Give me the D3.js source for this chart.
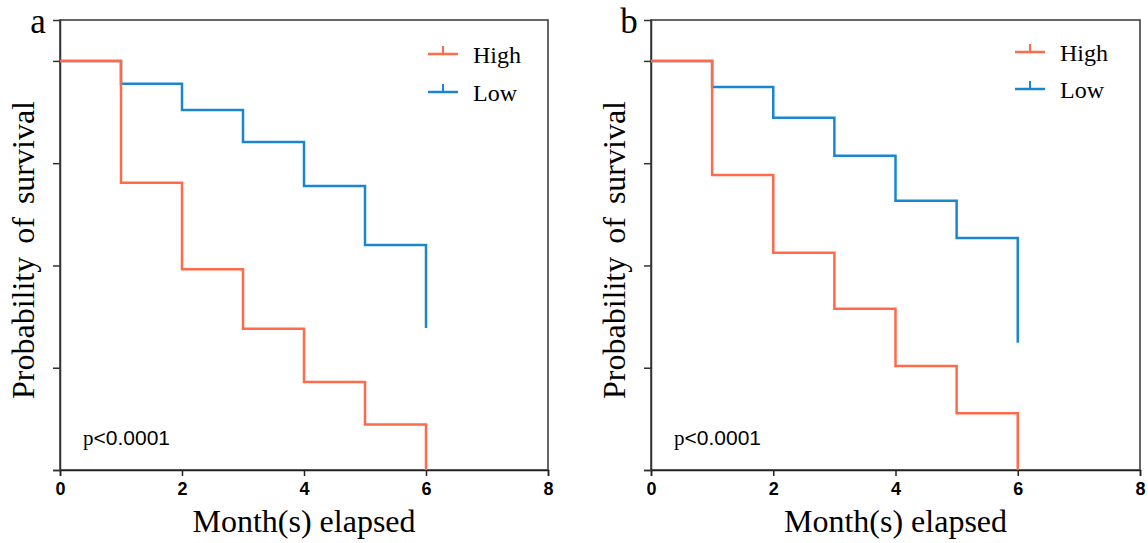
<!DOCTYPE html>
<html>
<head>
<meta charset="utf-8">
<script src="https://cdn.jsdelivr.net/npm/d3@7"></script>
<style>
  body { margin: 0; background: #fff; }
  svg { display: block; }
</style>
</head>
<body>
<svg id="chart" width="1148" height="543"></svg>
<script>
// months on the x axis
const months = [0, 1, 2, 3, 4, 5, 6];
// panel a survival estimates
const highA = [1, 0.702, 0.491, 0.345, 0.215, 0.111, 0];
const lowA = [1, 0.944, 0.880, 0.802, 0.694, 0.550, 0.347];
// panel b survival estimates
const highB = [1, 0.721, 0.531, 0.394, 0.254, 0.139, 0];
const lowB = [1, 0.936, 0.861, 0.768, 0.658, 0.567, 0.311];
const xTicks = [0, 2, 4, 6, 8];
const yTicks = [0, 0.25, 0.5, 0.75, 1];
const seriesNames = ["High", "Low"];
const colors = { High: "#ff6a4b", Low: "#1b86d0" };

const svg = d3.select("#chart");
const serif = '"Liberation Serif", "Times New Roman", serif';
const sans = '"Liberation Sans", Arial, sans-serif';

const panels = [
  { label: "a", left: 60, right: 548, high: highA, low: lowA, legX: 428, legY: 54, legGap: 38 },
  { label: "b", left: 651, right: 1140, high: highB, low: lowB, legX: 1015, legY: 52, legGap: 37 }
];
const plotTop = 20, plotBottom = 470;

panels.forEach(p => {
  const x = d3.scaleLinear().domain([0, 8]).range([p.left, p.right]);
  const y = d3.scaleLinear().domain([0, 1.1]).range([plotBottom, plotTop]);
  const g = svg.append("g");

  // frame
  g.append("rect")
    .attr("x", p.left).attr("y", plotTop)
    .attr("width", p.right - p.left).attr("height", plotBottom - plotTop)
    .attr("fill", "none").attr("stroke", "#333").attr("stroke-width", 1.5);

  const xAxis = g.append("g")
    .attr("transform", `translate(0,${plotBottom})`)
    .call(d3.axisBottom(x).tickValues(xTicks).tickSize(6).tickPadding(6));
  xAxis.select(".domain").attr("stroke", "#222").attr("stroke-width", 1.5);
  xAxis.selectAll(".tick line").attr("stroke", "#222").attr("stroke-width", 1.5);
  xAxis.selectAll("text")
    .style("font-family", sans).style("font-weight", "bold")
    .style("font-size", "18px").attr("fill", "#000");

  const yAxis = g.append("g")
    .attr("transform", `translate(${p.left},0)`)
    .call(d3.axisLeft(y).tickValues(yTicks).tickSize(7).tickFormat(""));
  yAxis.select(".domain").attr("stroke", "#333").attr("stroke-width", 1.5);
  yAxis.selectAll(".tick line").attr("stroke", "#333").attr("stroke-width", 1.5);

  const line = d3.line()
    .x((d, i) => x(months[i]))
    .y(d => y(d))
    .curve(d3.curveStepAfter);

  // low first so high sits on top
  g.append("path").datum(p.low)
    .attr("d", line).attr("fill", "none")
    .attr("stroke", colors.Low).attr("stroke-width", 2.5);
  g.append("path").datum(p.high)
    .attr("d", line).attr("fill", "none")
    .attr("stroke", colors.High).attr("stroke-width", 2.5);

  // legend
  seriesNames.forEach((name, i) => {
    const ly = p.legY + i * p.legGap;
    g.append("line")
      .attr("x1", p.legX).attr("x2", p.legX + 30)
      .attr("y1", ly).attr("y2", ly)
      .attr("stroke", colors[name]).attr("stroke-width", 2.5);
    g.append("line")
      .attr("x1", p.legX + 15).attr("x2", p.legX + 15)
      .attr("y1", ly - 8).attr("y2", ly)
      .attr("stroke", colors[name]).attr("stroke-width", 2);
    g.append("text")
      .attr("x", p.legX + 45).attr("y", ly + 9)
      .style("font-family", serif).style("font-size", "24px")
      .text(name);
  });

  // p value
  const pt = g.append("text")
    .attr("x", p.left + 23).attr("y", 445)
    .style("font-size", "21px");
  pt.append("tspan").style("font-family", serif).text("p");
  pt.append("tspan").style("font-family", sans).text("<0.0001");

  // axis titles
  g.append("text")
    .attr("x", (p.left + p.right) / 2).attr("y", 532)
    .attr("text-anchor", "middle")
    .style("font-family", serif).style("font-size", "32px")
    .text("Month(s) elapsed");

  g.append("text")
    .attr("transform", `translate(${p.left - 26},${(plotTop + plotBottom) / 2 + 5}) rotate(-90)`)
    .attr("text-anchor", "middle")
    .style("font-family", serif).style("font-size", "32px")
    .style("word-spacing", "5px")
    .text("Probability of survival");

  // panel letter
  g.append("text")
    .attr("x", p.left - 22).attr("y", 33)
    .attr("text-anchor", "middle")
    .style("font-family", serif).style("font-size", "35px")
    .text(p.label);
});
</script>
</body>
</html>
